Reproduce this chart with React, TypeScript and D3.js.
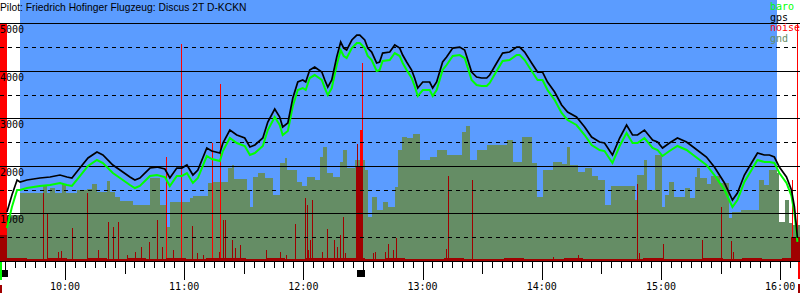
import React from "react";
import * as d3 from "d3";

const title = "Pilot: Friedrich Hofinger Flugzeug: Discus 2T D-KCKN";
const legendNames = ["baro", "gps", "noise", "gnd"];
const legendColors = ["#00ff00", "#000000", "#ff0000", "#658d65"];

// time axis in minutes since midnight
const timeDomain = [567.3, 970.0];
const hourLabels = ["10:00", "11:00", "12:00", "13:00", "14:00", "15:00", "16:00"];
const altTicks = [1000, 2000, 3000, 4000, 5000];
const altHalfTicks = [500, 1500, 2500, 3500, 4500];
const taskBand = [577.4, 958.2];
const engineMarks = [569.3, 749.1];

const flightTimes = [
  570.8, 573.3, 575.9, 577.4, 580.9, 587.4, 592.5, 597.5, 601.0, 603.5,
  607.5, 611.6, 616.1, 619.1, 624.1, 627.7, 632.7, 635.2, 637.7, 642.8,
  646.3, 650.3, 652.8, 656.3, 658.8, 661.4, 664.4, 666.9, 671.4, 673.9,
  678.0, 679.5, 683.0, 686.5, 690.5, 693.1, 695.6, 699.6, 702.1, 705.6,
  708.1, 709.6, 712.2, 714.7, 717.2, 719.7, 721.2, 723.2, 725.7, 729.3,
  730.8, 732.3, 734.3, 736.8, 738.8, 740.3, 741.8, 744.4, 746.9, 748.4,
  750.9, 752.4, 754.4, 756.9, 758.4, 759.9, 763.5, 766.0, 768.5, 770.0,
  772.0, 774.5, 776.0, 777.6, 780.1, 783.6, 785.1, 787.1, 790.1, 792.1,
  795.2, 798.7, 801.2, 804.7, 807.2, 809.7, 812.3, 813.8, 817.3, 820.3,
  823.8, 827.4, 828.9, 831.4, 834.9, 837.9, 840.4, 842.9, 846.5, 850.0,
  853.0, 857.5, 861.6, 865.1, 869.1, 871.6, 875.6, 879.2, 882.7, 885.7,
  888.2, 891.7, 895.8, 898.3, 900.8, 904.3, 908.3, 912.9, 916.9, 922.9,
  926.9, 932.0, 936.0, 938.5, 942.0, 945.6, 948.6, 952.1, 954.6, 957.1,
  959.6, 963.2, 965.7, 967.2, 968.2, 968.7,
];

const gpsAlt = [
  1027, 1385, 1701, 1659, 1701, 1743, 1764, 1806, 1764, 1743,
  1953, 2164, 2290, 2227, 2017, 1911, 1764, 1701, 1743, 1953,
  1974, 1932, 1743, 1953, 1953, 2017, 1806, 1911, 2374, 2311,
  2269, 2480, 2753, 2648, 2585, 2395, 2438, 2585, 2922, 3195,
  3027, 2816, 2901, 3427, 3764, 3806, 3764, 4016, 4079, 3974,
  3806, 3658, 3806, 4290, 4606, 4479, 4437, 4648, 4753, 4753,
  4648, 4479, 4395, 4164, 4185, 4374, 4395, 4543, 4479, 4332,
  4185, 4016, 3848, 3637, 3764, 3764, 3637, 3764, 4185, 4290,
  4479, 4500, 4437, 3974, 3869, 3848, 3848, 3911, 4164, 4374,
  4395, 4500, 4500, 4395, 4164, 3974, 3974, 3764, 3553, 3280,
  3132, 3027, 2816, 2606, 2501, 2480, 2227, 2585, 2859, 2648,
  2648, 2753, 2543, 2501, 2374, 2480, 2585, 2501, 2374, 2185,
  1974, 1638, 1280, 1427, 1806, 2059, 2269, 2227, 2227, 2185,
  1974, 1764, 1490, 1133, 711, 480,
];

const baroAlt = [
  690, 1133, 1490, 1490, 1532, 1575, 1596, 1638, 1596, 1575,
  1785, 1996, 2122, 2059, 1848, 1743, 1596, 1532, 1575, 1785,
  1806, 1764, 1575, 1785, 1785, 1848, 1638, 1743, 2206, 2143,
  2101, 2311, 2585, 2480, 2417, 2227, 2269, 2417, 2753, 3027,
  2859, 2648, 2733, 3259, 3595, 3637, 3595, 3848, 3911, 3806,
  3637, 3490, 3637, 4122, 4437, 4311, 4269, 4479, 4585, 4585,
  4479, 4311, 4227, 3996, 4017, 4206, 4227, 4374, 4311, 4164,
  4017, 3848, 3680, 3469, 3595, 3595, 3469, 3595, 4017, 4122,
  4311, 4332, 4269, 3806, 3701, 3680, 3680, 3743, 3996, 4206,
  4227, 4332, 4332, 4227, 3996, 3806, 3806, 3595, 3385, 3112,
  2964, 2859, 2648, 2438, 2333, 2311, 2059, 2417, 2691, 2480,
  2480, 2585, 2375, 2333, 2206, 2311, 2417, 2333, 2206, 2017,
  1806, 1490, 1133, 1280, 1659, 1911, 2122, 2080, 2080, 2059,
  1848, 1638, 1364, 1007, 596, 400,
];

const gndTimes = [
  567.3, 577.4, 588.9, 590.9, 592.5, 595.0, 598.5, 600.5, 606.0, 611.1,
  613.6, 616.1, 621.1, 622.6, 625.1, 627.7, 634.2, 642.8, 647.8, 651.3,
  652.8, 662.9, 664.4, 671.9, 673.9, 682.0, 684.0, 685.0, 691.5, 693.1,
  694.6, 697.1, 700.6, 704.6, 708.1, 710.7, 711.7, 716.7, 719.2, 721.7,
  725.7, 728.3, 729.8, 731.8, 734.8, 738.3, 739.8, 741.8, 745.9, 750.9,
  752.4, 754.4, 756.9, 759.9, 762.5, 766.0, 767.5, 769.5, 772.0, 775.0,
  778.6, 783.6, 787.1, 792.1, 799.7, 801.7, 803.7, 807.2, 812.3, 822.3,
  825.3, 829.9, 834.9, 837.4, 840.4, 845.5, 850.0, 852.5, 854.0, 858.0,
  861.6, 865.1, 868.1, 871.6, 875.1, 886.7, 888.2, 891.7, 893.2, 896.8,
  900.3, 901.8, 904.3, 906.8, 911.9, 914.4, 916.9, 918.4, 919.9, 923.4,
  925.4, 929.5, 934.5, 936.0, 940.5, 949.6, 952.1, 954.6, 958.2, 959.6,
  962.2, 964.7, 966.2, 970.0,
];

const gndAlt = [
  964, 1427, 1575, 1427, 1532, 1427, 1617, 1427, 1490, 1511,
  1617, 1448, 1680, 1448, 1343, 1259, 1175, 1743, 1175, 711,
  1238, 1322, 1364, 1638, 1659, 1953, 2017, 1722, 1490, 1133,
  1764, 1848, 1743, 1385, 2059, 2164, 1911, 1659, 1575, 1764,
  1701, 2185, 2395, 1848, 1764, 2080, 2332, 1953, 2122, 1911,
  922, 1343, 1069, 1238, 1133, 1553, 2332, 2606, 2585, 2669,
  2122, 2185, 2332, 2227, 2711, 2838, 2122, 2332, 2438, 2543,
  2080, 2606, 2059, 1343, 1911, 2080, 2038, 2395, 2017, 1869,
  1953, 1785, 1701, 1175, 1575, 1280, 1806, 2122, 1490, 2227,
  1133, 1385, 1659, 1343, 1532, 1322, 1764, 1953, 1743, 1617,
  1785, 1638, 901, 1027, 1069, 1701, 1596, 1911, 1848, 817,
  1280, 796, 754, 754,
];

// noise: [time, value] spikes and [start, end, value] blocks
const noiseHighSpikes = [
  [650.8, 2185], [658.3, 4564], [673.9, 2480], [678.0, 3721],
  [749.4, 4164], [966.0, 1701], [968.6, 5000],
];
const noiseHighBlocks = [
  [567.3, 570.8, 5000], [748.4, 749.4, 2753],
];
const noiseLowSpikes = [
  [588.9, 1427], [590.9, 985], [596.5, 185], [598.0, 206], [603.5, 690],
  [611.1, 1427], [616.6, 227], [621.6, 817], [624.1, 711], [626.7, 817],
  [631.2, 122], [635.2, 185], [638.2, 290], [642.2, 396], [646.3, 859],
  [648.8, 290], [654.3, 227], [663.9, 733], [666.4, 164], [669.4, 122],
  [677.5, 185], [679.5, 859], [680.5, 859], [684.0, 438], [685.5, 269],
  [688.0, 333], [701.1, 227], [708.1, 185], [711.2, 122], [715.7, 775],
  [720.7, 1322], [721.7, 1175], [722.2, 227], [723.2, 438], [724.2, 1280],
  [729.3, 185], [731.8, 669], [735.3, 438], [736.8, 290], [738.3, 543],
  [739.8, 922], [740.8, 164], [746.6, 1238], [746.9, 2459], [754.9, 164],
  [755.9, 185], [761.0, 185], [762.5, 354], [765.0, 227], [766.5, 480],
  [791.6, 248], [792.6, 1785], [804.7, 1701], [845.5, 80], [858.0, 122],
  [888.2, 1617], [889.2, 164], [900.8, 354], [920.9, 438], [930.0, 1133],
  [935.5, 417], [936.5, 185],
];
const noiseLowBlocks = [
  [567.3, 570.8, 543], [746.4, 750.0, 1974], [965.7, 970.0, 501],
];
const noiseBase = [
  [571, 60], [581, 45], [591, 50], [601, 40], [611, 55], [621, 45], [631, 60], [641, 40],
  [651, 50], [661, 45], [671, 55], [681, 60], [691, 45], [701, 50], [711, 40], [721, 65],
  [731, 50], [741, 55], [751, 45], [761, 50], [771, 40], [781, 45], [791, 55], [801, 40],
  [811, 45], [821, 50], [831, 40], [841, 45], [851, 50], [861, 40], [871, 45], [881, 40],
  [891, 50], [901, 45], [911, 40], [921, 50], [931, 45], [941, 55], [951, 45], [961, 50],
  [965.7, 50],
];

const BLUE = "#5b9cff";
const GND = "#658d65";
const DARKRED = "#a00000";
const MONO = "'DejaVu Sans Mono', monospace";

function parseHM(s: string) {
  const [h, m] = s.split(":").map(Number);
  return h * 60 + m;
}

export default function App() {
  const W = 800, H = 300;
  const x = d3.scaleLinear().domain(timeDomain).range([0, W]);
  const y = d3.scaleLinear().domain([0, 5000]).range([260.8, 23.3]);
  const yc = (v: number) => y(Math.min(v, 5000));
  const y0 = y(0);

  const gndArea = d3
    .area<number>()
    .curve(d3.curveStepAfter)
    .x((_, i) => x(gndTimes[i]))
    .y0(y0)
    .y1((d) => y(d));

  const baseArea = d3
    .area<number[]>()
    .curve(d3.curveStepAfter)
    .x((d) => x(d[0]))
    .y0(y0)
    .y1((d) => y(d[1]));

  const line = (vals: number[]) =>
    d3
      .line<number>()
      .x((_, i) => x(flightTimes[i]))
      .y((d) => y(d))(vals) || "";

  const minorTicks = d3.range(Math.ceil(timeDomain[0] / 5) * 5, timeDomain[1], 5);

  const gridY = (v: number) => Math.round(y(v)) + 0.5;

  return (
    <svg
      width={W}
      height={H}
      viewBox={`0 0 ${W} ${H}`}
      style={{ position: "absolute", left: 0, top: 0, background: "#fff" }}
    >
      <rect x={0} y={0} width={W} height={H} fill="#fff" />
      {/* task band */}
      <rect
        x={x(taskBand[0])}
        y={0}
        width={x(taskBand[1]) - x(taskBand[0])}
        height={y0 + 1}
        fill={BLUE}
        shapeRendering="crispEdges"
      />
      {/* ground */}
      <path d={gndArea(gndAlt) || ""} fill={GND} shapeRendering="crispEdges" />
      {/* high noise */}
      <g fill="#ff0000" shapeRendering="crispEdges">
        {noiseHighBlocks.map((b, i) => (
          <rect key={"hb" + i} x={x(b[0])} y={yc(b[2])} width={x(b[1]) - x(b[0])} height={y0 - yc(b[2])} />
        ))}
        {noiseHighSpikes.map((s, i) => (
          <rect key={"hs" + i} x={Math.round(x(s[0]))} y={yc(s[1])} width={1} height={y0 - yc(s[1])} />
        ))}
      </g>
      {/* low noise */}
      <g fill={DARKRED} shapeRendering="crispEdges">
        <path d={baseArea(noiseBase) || ""} />
        {noiseLowBlocks.map((b, i) => (
          <rect key={"lb" + i} x={x(b[0])} y={yc(b[2])} width={x(b[1]) - x(b[0])} height={y0 - yc(b[2])} />
        ))}
        {noiseLowSpikes.map((s, i) => (
          <rect key={"ls" + i} x={Math.round(x(s[0]))} y={yc(s[1])} width={1} height={y0 - yc(s[1])} />
        ))}
      </g>
      {/* grid */}
      <g stroke="#000" strokeWidth={1} shapeRendering="crispEdges">
        {altTicks.map((v) => (
          <line key={"g" + v} x1={0} x2={W} y1={gridY(v)} y2={gridY(v)} />
        ))}
        {altHalfTicks.map((v) => (
          <line key={"h" + v} x1={0} x2={W} y1={gridY(v)} y2={gridY(v)} strokeDasharray="4 4" />
        ))}
      </g>
      {/* y labels */}
      <g fontFamily={MONO} fontSize={10} fill="#000">
        {altTicks.map((v) => (
          <text key={"t" + v} x={0} y={y(v) + 10}>
            {v}
          </text>
        ))}
      </g>
      {/* baro & gps */}
      <path d={line(baroAlt)} fill="none" stroke="#00ff00" strokeWidth={2} strokeLinejoin="miter" />
      <path d={line(gpsAlt)} fill="none" stroke="#000" strokeWidth={1.7} strokeLinejoin="miter" />
      {/* bottom axis */}
      <g stroke="#000" strokeWidth={1} shapeRendering="crispEdges">
        <line x1={0} x2={W} y1={261.5} y2={261.5} />
        {minorTicks.map((t) => {
          const len = t % 60 === 0 ? 18 : t % 30 === 0 ? 12 : 6;
          const px = Math.round(x(t)) + 0.5;
          return <line key={"k" + t} x1={px} x2={px} y1={262} y2={262 + len} />;
        })}
      </g>
      <g fontFamily={MONO} fontSize={10} fill="#000" textAnchor="middle">
        {hourLabels.map((l) => (
          <text key={l} x={x(parseHM(l))} y={290}>
            {l}
          </text>
        ))}
      </g>
      {/* engine markers */}
      <g fill="#000" shapeRendering="crispEdges">
        {engineMarks.map((t, i) => (
          <rect key={"e" + i} x={Math.max(0, x(t) - 4)} y={270} width={8} height={7} />
        ))}
      </g>
      {/* start/end markers below axis */}
      <g shapeRendering="crispEdges">
        <rect x={x(timeDomain[0])} y={262} width={2} height={18} fill="#00ff00" />
        <rect x={x(timeDomain[0])} y={285} width={2} height={8} fill={DARKRED} />
        <rect x={x(timeDomain[1]) - 2} y={262} width={2} height={17} fill="#ff0000" />
        <rect x={x(timeDomain[1]) - 2} y={284} width={2} height={9} fill={DARKRED} />
      </g>
      {/* legend */}
      <g fontFamily={MONO} fontSize={10}>
        {legendNames.map((n, i) => (
          <text key={n} x={770} y={10 + i * 10.5} fill={legendColors[i]}>
            {n}
          </text>
        ))}
      </g>
      {/* title */}
      <text x={0} y={11} fontFamily="'Liberation Sans', Arial, sans-serif" fontSize={10.3} fill="#000">
        {title}
      </text>
    </svg>
  );
}
